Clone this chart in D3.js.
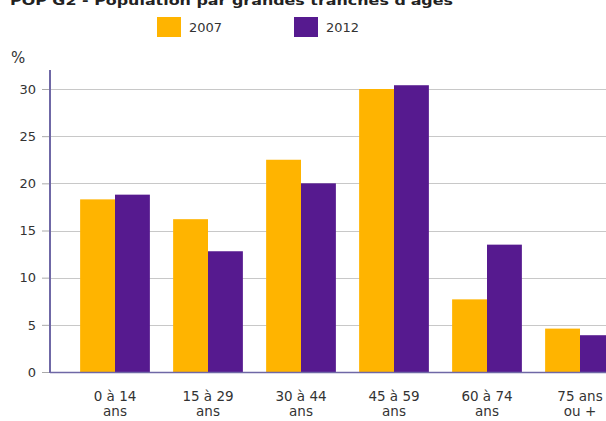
<!DOCTYPE html>
<html><head><meta charset="utf-8">
<script src="https://cdn.jsdelivr.net/npm/d3@7"></script>
<style>body{margin:0;background:#fff;}svg{display:block;}</style>
</head><body>
<svg id="c" width="606" height="421"></svg>
<script>
const title = "POP G2 - Population par grandes tranches d'âges";
const categories = [["0 à 14","ans"],["15 à 29","ans"],["30 à 44","ans"],["45 à 59","ans"],["60 à 74","ans"],["75 ans","ou +"]];
const seriesNames = ["2007","2012"];
const values2007 = [18.3, 16.2, 22.5, 30.0, 7.7, 4.6];
const values2012 = [18.8, 12.8, 20.0, 30.4, 13.5, 3.9];
const yTicks = [0, 5, 10, 15, 20, 25, 30];
const colors = ["#ffb400", "#561a8f"];

const svg = d3.select("#c");
const font = "DejaVu Sans, Verdana, sans-serif";
const y = d3.scaleLinear().domain([0, 30]).range([372, 89]);
const x0 = d3.scaleBand().domain(d3.range(categories.length)).range([68.5, 626.5]).paddingInner(0.25).paddingOuter(0.125);
const x1 = d3.scaleBand().domain([0, 1]).range([0, x0.bandwidth()]);

// title (cut at top in the reference)
svg.append("text").attr("x", 10).attr("y", 5).text(title)
  .attr("font-family", font).attr("font-weight", "bold").attr("font-size", 13).attr("fill", "#222")
  .attr("textLength", 443).attr("lengthAdjust", "spacingAndGlyphs");

// legend
const legX = [157, 294];
seriesNames.forEach((s, i) => {
  svg.append("rect").attr("x", legX[i]).attr("y", 17).attr("width", 24).attr("height", 20).attr("fill", colors[i]);
  svg.append("text").attr("x", legX[i] + 32).attr("y", 32).text(s)
    .attr("font-family", font).attr("font-size", 13).attr("fill", "#333");
});

// % label
svg.append("text").attr("x", 11).attr("y", 63).text("%").attr("font-family", font).attr("font-size", 15).attr("fill", "#333");

// gridlines
svg.append("g").selectAll("line").data(yTicks.filter(d => d > 0)).join("line")
  .attr("x1", 50).attr("x2", 606).attr("y1", d => Math.round(y(d)) + 0.5).attr("y2", d => Math.round(y(d)) + 0.5)
  .attr("stroke", "#c8c8c8").attr("stroke-width", 1);

// y axis
const yAxis = d3.axisLeft(y).tickValues(yTicks).tickSize(8).tickPadding(6);
const gy = svg.append("g").attr("transform", "translate(50,0)").call(yAxis);
gy.select(".domain").remove();
gy.selectAll(".tick line").attr("stroke", "#aaa");
gy.selectAll(".tick text").attr("font-family", font).attr("font-size", 13).attr("fill", "#333");
svg.append("line").attr("x1", 50).attr("x2", 50).attr("y1", 70).attr("y2", 373).attr("stroke", "#6f68a6").attr("stroke-width", 2);

// bars
const data = [values2007, values2012];
const g = svg.append("g");
categories.forEach((c, i) => {
  data.forEach((vals, s) => {
    g.append("rect")
      .attr("x", x0(i) + x1(s)).attr("width", x1.bandwidth())
      .attr("y", y(vals[i])).attr("height", y(0) - y(vals[i]))
      .attr("fill", colors[s]);
  });
});

// x axis
svg.append("line").attr("x1", 50).attr("x2", 606).attr("y1", 372.5).attr("y2", 372.5).attr("stroke", "#6f68a6").attr("stroke-width", 1.5);
const xa = svg.append("g");
categories.forEach((c, i) => {
  const cx = x0(i) + x0.bandwidth() / 2;
  const t = xa.append("text").attr("text-anchor", "middle").attr("font-family", font).attr("font-size", 13.5).attr("fill", "#333");
  t.append("tspan").attr("x", cx).attr("y", 401).text(c[0]);
  t.append("tspan").attr("x", cx).attr("y", 416).text(c[1]);
});
</script>
</body></html>
